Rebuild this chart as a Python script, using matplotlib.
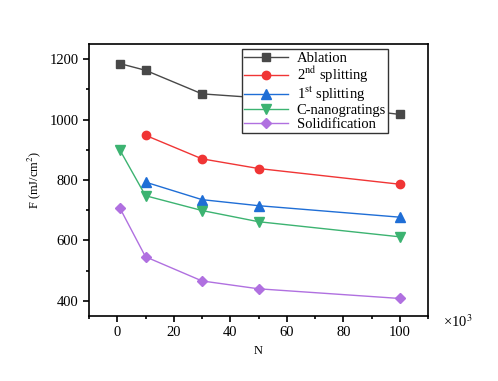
import numpy as np
import matplotlib
matplotlib.use('Agg')
from matplotlib import pyplot as plt
from matplotlib.ticker import MultipleLocator

plt.rcParams['font.family'] = ['Liberation Serif', 'DejaVu Serif']
plt.rcParams['mathtext.fontset'] = 'stix'

# N in units of 10^3
n_ablation = [1, 10, 30, 50, 100]
f_ablation = [1185, 1163, 1085, 1072, 1017]
n_split2 = [10, 30, 50, 100]
f_split2 = [948, 870, 838, 786]
n_split1 = [10, 30, 50, 100]
f_split1 = [793, 735, 715, 677]
n_cnano = [1, 10, 30, 50, 100]
f_cnano = [898, 748, 699, 662, 612]
n_solid = [1, 10, 30, 50, 100]
f_solid = [706, 546, 466, 440, 408]

labels = ['Ablation', '2$^{\\mathrm{nd}}$ splitting', '1$^{\\mathrm{st}}$ splitting',
          'C-nanogratings', 'Solidification']

fig = plt.figure(figsize=(4.98, 3.81), dpi=100)
ax = fig.add_axes([89/498, 1-316/381, (428-89)/498, (316-44)/381])

ax.plot(n_ablation, f_ablation, '-s', color='#484848', ms=5.5, lw=1, label=labels[0])
ax.plot(n_split2, f_split2, '-o', color='#f03535', ms=6, lw=1, label=labels[1])
ax.plot(n_split1, f_split1, '-^', color='#1f6ed6', ms=7, lw=1, label=labels[2])
ax.plot(n_cnano, f_cnano, '-v', color='#3cb371', ms=7, lw=1, label=labels[3])
ax.plot(n_solid, f_solid, '-D', color='#b070e0', ms=5, lw=1, label=labels[4])

ax.set_xlim(-10, 110)
ax.set_ylim(350, 1250)
ax.xaxis.set_major_locator(MultipleLocator(20))
ax.xaxis.set_minor_locator(MultipleLocator(10))
ax.yaxis.set_major_locator(MultipleLocator(200))
ax.yaxis.set_minor_locator(MultipleLocator(100))
ax.tick_params(which='both', direction='out', top=False, right=False, labelsize=10.5, width=1.2)
ax.tick_params(which='major', length=4)
ax.tick_params(which='minor', length=2.5)
for s in ax.spines.values():
    s.set_linewidth(1.2)

ax.set_xlabel('N', fontsize=9, labelpad=4)
ax.set_ylabel('F (mJ/cm$^2$)', fontsize=9, labelpad=5)
ax.text(1.045, -0.02, '\u00d710$^3$', transform=ax.transAxes, fontsize=10.5, va='center', ha='left')

leg = ax.legend(loc='upper right', bbox_to_anchor=(0.882, 0.98), fontsize=10.5, fancybox=False,
                framealpha=1, edgecolor='#333333', handlelength=3.0, labelspacing=0.0,
                borderpad=0.15, handletextpad=0.6, borderaxespad=0)
leg.get_frame().set_linewidth(1)

fig.savefig('out.png', dpi=100)
